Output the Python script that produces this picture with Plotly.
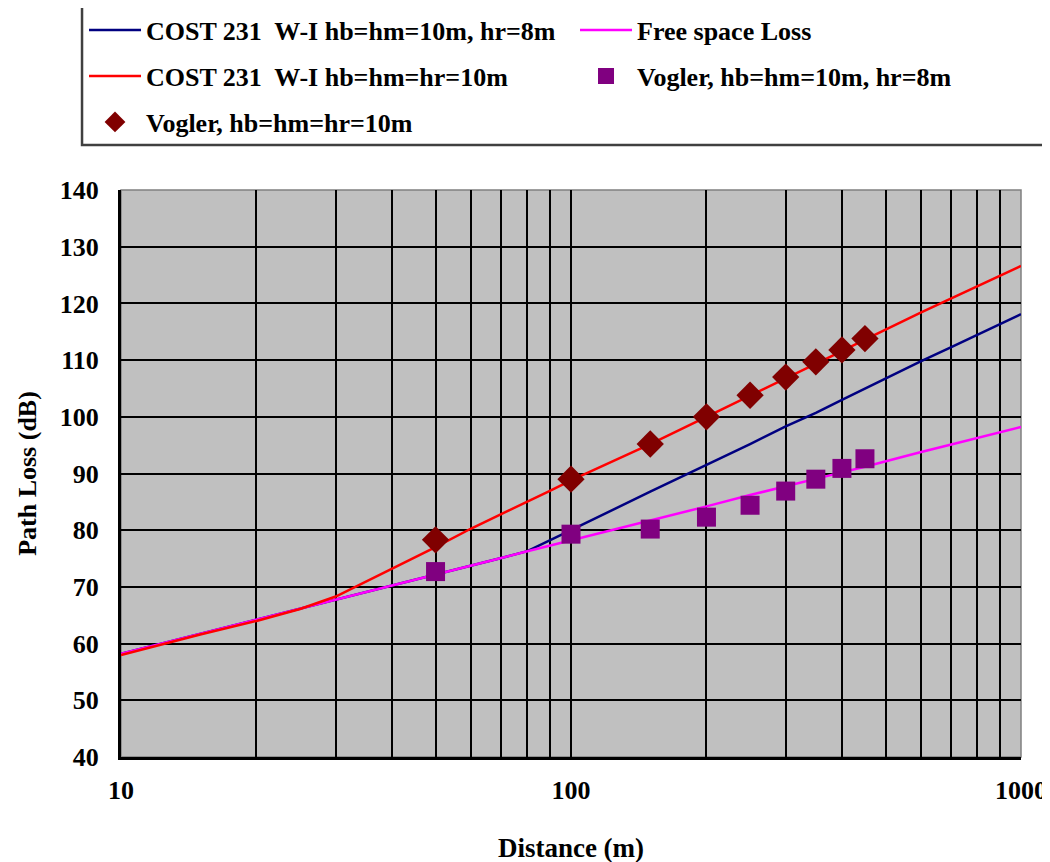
import plotly.graph_objects as go

# ---- data ----
dist = [10, 15, 20, 25, 30, 40, 50, 60, 70, 80, 90, 100, 150, 200, 250, 300, 350,
        400, 450, 500, 600, 700, 800, 900, 1000]

cost_hr8 = [58.2, 61.7, 64.2, 66.2, 67.7, 70.2, 72.2, 73.8, 75.1, 76.3, 78.3, 80.0,
            86.8, 91.5, 95.2, 98.3, 100.7, 103.0, 105.0, 106.7, 109.8, 112.3, 114.5,
            116.4, 118.1]
free_space = [58.2, 61.7, 64.2, 66.2, 67.7, 70.2, 72.2, 73.8, 75.1, 76.3, 77.3, 78.2,
              81.7, 84.2, 86.2, 87.7, 89.0, 90.2, 91.2, 92.2, 93.8, 95.1, 96.3, 97.3, 98.2]
cost_hr10 = [58.0, 61.6, 64.0, 66.1, 68.3, 73.2, 77.0, 80.3, 82.8, 85.0, 87.0, 88.8,
             95.2, 100.0, 103.7, 106.8, 109.3, 111.6, 113.6, 115.4, 118.4, 120.9, 123.0,
             124.9, 126.6]

vog_dist = [50, 100, 150, 200, 250, 300, 350, 400, 450]
vogler_hr8 = [72.7, 79.3, 80.2, 82.3, 84.4, 86.9, 89.0, 90.9, 92.6]
vogler_hr10 = [78.3, 89.0, 95.2, 100.0, 103.8, 107.0, 109.7, 111.8, 113.8]

names = ["COST 231  W-I hb=hm=10m, hr=8m", "Free space Loss",
         "COST 231  W-I hb=hm=hr=10m", "Vogler, hb=hm=10m, hr=8m",
         "Vogler, hb=hm=hr=10m"]

x_ticks = [10, 20, 30, 40, 50, 60, 70, 80, 90, 100, 200, 300, 400, 500, 600, 700,
           800, 900, 1000]
x_ticktext = ["10", "", "", "", "", "", "", "", "", "100", "", "", "", "", "", "", "",
              "", "1000"]
y_ticks = [40, 50, 60, 70, 80, 90, 100, 110, 120, 130, 140]

FONT = "Liberation Serif"

fig = go.Figure()
fig.add_trace(go.Scatter(x=dist, y=cost_hr8, mode="lines", name=names[0],
                         legend="legend",
                         line=dict(color="#000080", width=2.5)))
fig.add_trace(go.Scatter(x=dist, y=free_space, mode="lines", name=names[1],
                         legend="legend",
                         line=dict(color="#FF00FF", width=2.5)))
fig.add_trace(go.Scatter(x=dist, y=cost_hr10, mode="lines", name=names[2],
                         legend="legend2",
                         line=dict(color="#FF0000", width=2.5)))
fig.add_trace(go.Scatter(x=vog_dist, y=vogler_hr8, mode="markers", name=names[3],
                         legend="legend2",
                         marker=dict(symbol="square", size=19, color="#800080")))
fig.add_trace(go.Scatter(x=vog_dist, y=vogler_hr10, mode="markers", name=names[4],
                         legend="legend3",
                         marker=dict(symbol="diamond", size=21, color="#800000")))

def leg(ypos):
    return dict(
        orientation="h",
        x=-0.0411, y=ypos, xanchor="left", yanchor="middle",
        bgcolor="rgba(0,0,0,0)", borderwidth=0,
        font=dict(family=FONT, size=26, color="black", weight="bold"),
        entrywidth=424, entrywidthmode="pixels",
        itemwidth=52,
    )

fig.update_layout(
    width=1050, height=862,
    margin=dict(l=113, r=37, t=182, b=113, autoexpand=False),
    paper_bgcolor="white",
    plot_bgcolor="#C0C0C0",
    font=dict(family=FONT, size=22, color="black"),
    showlegend=True,
    legend=leg(1.2822),
    legend2=leg(1.2011),
    legend3=leg(1.1199),
    xaxis=dict(
        type="log", range=[1, 3], automargin=False,
        tickmode="array", tickvals=x_ticks, ticktext=x_ticktext,
        showgrid=True, gridcolor="black", gridwidth=1.6,
        showline=True, linecolor="black", linewidth=3,
        ticks="", ticklabelstandoff=8,
        tickfont=dict(family=FONT, size=26, weight="bold"),
        title=dict(text="Distance (m)", standoff=34,
                   font=dict(family=FONT, size=27, weight="bold")),
        zeroline=False,
    ),
    yaxis=dict(
        range=[40, 140], automargin=False,
        tickmode="array", tickvals=y_ticks,
        showgrid=True, gridcolor="black", gridwidth=1.6,
        showline=True, linecolor="black", linewidth=3,
        ticks="inside", ticklen=8, tickwidth=2, tickcolor="black",
        ticklabelstandoff=14,
        tickfont=dict(family=FONT, size=26, weight="bold"),
        title=dict(text="Path Loss (dB)", standoff=16,
                   font=dict(family=FONT, size=26, weight="bold")),
        zeroline=False,
    ),
    shapes=[
        dict(type="rect", xref="paper", yref="paper", x0=0, x1=1, y0=0, y1=1,
             line=dict(color="#808080", width=1.5), layer="below"),
        dict(type="rect", xref="paper", yref="paper",
             x0=-0.0433, x1=1.04, y0=1.0794, y1=1.3316,
             line=dict(color="#404040", width=2.5), fillcolor="rgba(0,0,0,0)",
             layer="above"),
    ],
)

fig.write_html("out.html")
